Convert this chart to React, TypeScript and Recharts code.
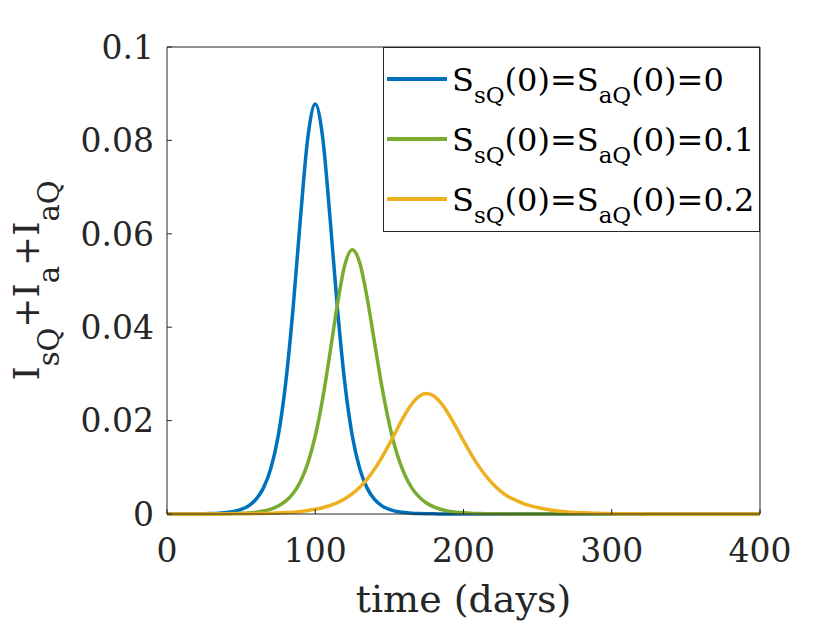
import { LineChart, Line, XAxis, YAxis } from "recharts";

// sampled every 5 days, 0..400
const TIME = [
  0, 5, 10, 15, 20, 25, 30, 35, 40, 45, 50, 55, 60, 65, 70, 75, 80, 85, 90, 95,
  100, 105, 110, 115, 120, 125, 130, 135, 140, 145, 150, 155, 160, 165, 170, 175, 180, 185, 190, 195,
  200, 205, 210, 215, 220, 225, 230, 235, 240, 245, 250, 255, 260, 265, 270, 275, 280, 285, 290, 295,
  300, 305, 310, 315, 320, 325, 330, 335, 340, 345, 350, 355, 360, 365, 370, 375, 380, 385, 390, 395,
  400,
];

// S_sQ(0)=S_aQ(0)=0
const CASE_0 = [
  0, 0, 0.00001, 0.00002, 0.00003, 0.00005, 0.00009, 0.00017, 0.0003, 0.00054,
  0.00097, 0.00175, 0.00312, 0.00554, 0.00972, 0.0167, 0.0279, 0.0439, 0.0633, 0.0806,
  0.0878, 0.0806, 0.0633, 0.0439, 0.0279, 0.0167, 0.00972, 0.00554, 0.00312, 0.00175,
  0.00097, 0.00054, 0.0003, 0.00017, 0.00009, 0.00005, 0.00003, 0.00002, 0.00001, 0,
  0, 0, 0, 0, 0, 0, 0, 0, 0, 0,
  0, 0, 0, 0, 0, 0, 0, 0, 0, 0,
  0, 0, 0, 0, 0, 0, 0, 0, 0, 0,
  0, 0, 0, 0, 0, 0, 0, 0, 0, 0,
  0,
];

// S_sQ(0)=S_aQ(0)=0.1
const CASE_01 = [
  0, 0, 0, 0, 0.00001, 0.00001, 0.00002, 0.00003, 0.00006, 0.00009,
  0.00015, 0.00024, 0.0004, 0.00065, 0.00105, 0.0017, 0.00274, 0.00439, 0.00698, 0.0109,
  0.0167, 0.0247, 0.0346, 0.045, 0.0534, 0.0566, 0.0538, 0.0463, 0.0367, 0.0272,
  0.0192, 0.013, 0.00867, 0.00566, 0.00366, 0.00235, 0.00151, 0.00096, 0.00061, 0.00039,
  0.00025, 0.00016, 0.0001, 0.00006, 0.00004, 0.00003, 0.00002, 0.00001, 0.00001, 0,
  0, 0, 0, 0, 0, 0, 0, 0, 0, 0,
  0, 0, 0, 0, 0, 0, 0, 0, 0, 0,
  0, 0, 0, 0, 0, 0, 0, 0, 0, 0,
  0,
];

// S_sQ(0)=S_aQ(0)=0.2
const CASE_02 = [
  0, 0, 0, 0, 0.00001, 0.00001, 0.00001, 0.00002, 0.00002, 0.00003,
  0.00005, 0.00006, 0.00009, 0.00012, 0.00016, 0.00022, 0.0003, 0.0004, 0.00055, 0.00074,
  0.001, 0.00135, 0.00182, 0.00245, 0.00327, 0.00435, 0.00573, 0.00747, 0.00961, 0.01215,
  0.01502, 0.01805, 0.021, 0.0235, 0.0252, 0.0258, 0.02525, 0.0237, 0.02136, 0.01859,
  0.01568, 0.01289, 0.01036, 0.00819, 0.00637, 0.00491, 0.00376, 0.003, 0.0023, 0.00178,
  0.00138, 0.00106, 0.0008, 0.0006, 0.00045, 0.00034, 0.00026, 0.00019, 0.00014, 0.00011,
  0.00008, 0.00006, 0.00005, 0.00004, 0.00003, 0.00002, 0.00002, 0.00001, 0.00001, 0,
  0, 0, 0, 0, 0, 0, 0, 0, 0, 0,
  0,
];

const X_TICKS = [0, 100, 200, 300, 400];
const Y_TICKS = [0, 0.02, 0.04, 0.06, 0.08, 0.1];
const LEGEND_VALUES = ["0", "0.1", "0.2"];
const SERIES_KEYS = ["c0", "c01", "c02"];
const COLORS = ["#0072BD", "#77AC30", "#EDB120"];

const FONT = "'DejaVu Serif', serif";
const INK = "#262626";

const data = TIME.map((t, i) => ({
  t,
  c0: CASE_0[i],
  c01: CASE_01[i],
  c02: CASE_02[i],
}));

const YLabel = (props: any) => {
  const vb = props.viewBox || { x: 67, y: 47, width: 100, height: 467 };
  const cx = vb.x + vb.width - 128;
  const cy = vb.y + vb.height / 2;
  const sub = 29;
  const drop = 20;
  return (
    <text
      transform={`translate(${cx},${cy}) rotate(-90)`}
      textAnchor="middle"
      fontFamily={FONT}
      fontSize={36}
      fill={INK}
    >
      <tspan>I</tspan>
      <tspan fontSize={sub} dy={drop}>sQ</tspan>
      <tspan dy={-drop}>+I</tspan>
      <tspan fontSize={sub} dy={drop}>a</tspan>
      <tspan dy={-drop}>+I</tspan>
      <tspan fontSize={sub} dy={drop}>aQ</tspan>
    </text>
  );
};

const XLabel = (props: any) => {
  const vb = props.viewBox || { x: 167, y: 514, width: 593, height: 60 };
  return (
    <text
      x={vb.x + vb.width / 2}
      y={vb.y + 98}
      textAnchor="middle"
      fontFamily={FONT}
      fontSize={38}
      fill={INK}
    >
      time (days)
    </text>
  );
};

function LegendBox() {
  const drop = 12;
  return (
    <div style={{ position: "absolute", left: 383, top: 47, width: 377, height: 185 }}>
      <svg width={377} height={185}>
        <rect x={0.5} y={0.5} width={376} height={184} fill="#fff" stroke={INK} strokeWidth={1} />
        {LEGEND_VALUES.map((v, i) => {
          const ly = 32 + i * 60;
          return (
            <g key={v}>
              <line x1={4} x2={64} y1={ly} y2={ly} stroke={COLORS[i]} strokeWidth={4} />
              <text x={69} y={ly + 12} fontFamily={FONT} fontSize={32} fill="#000">
                <tspan>S</tspan>
                <tspan fontSize={23} dy={drop}>sQ</tspan>
                <tspan dy={-drop}>(0)=S</tspan>
                <tspan fontSize={23} dy={drop}>aQ</tspan>
                <tspan dy={-drop}>(0)={v}</tspan>
              </text>
            </g>
          );
        })}
      </svg>
    </div>
  );
}

export default function App() {
  return (
    <div style={{ position: "absolute", left: 0, top: 0, width: 840, height: 630, background: "#fff" }}>
      <LineChart
        width={840}
        height={630}
        data={data}
        margin={{ top: 46, right: 79, left: 67, bottom: 56 }}
      >
        <XAxis
          dataKey="t"
          type="number"
          domain={[0, 400]}
          ticks={X_TICKS}
          interval={0}
          height={60}
          stroke={INK}
          tickSize={-5}
          tickMargin={30}
          tick={{ fill: INK, fontFamily: FONT, fontSize: 33 }}
          label={<XLabel />}
        />
        <XAxis
          xAxisId="top"
          orientation="top"
          dataKey="t"
          type="number"
          domain={[0, 400]}
          ticks={X_TICKS}
          height={1}
          stroke={INK}
          tickSize={-5}
          tick={false}
        />
        <YAxis
          type="number"
          domain={[0, 0.1]}
          ticks={Y_TICKS}
          interval={0}
          width={100}
          stroke={INK}
          tickSize={-5}
          tickMargin={18}
          tick={{ fill: INK, fontFamily: FONT, fontSize: 33 }}
          label={<YLabel />}
        />
        <YAxis
          yAxisId="right"
          orientation="right"
          type="number"
          domain={[0, 0.1]}
          ticks={Y_TICKS}
          width={1}
          stroke={INK}
          tickSize={-5}
          tick={false}
        />
        {SERIES_KEYS.map((k, i) => (
          <Line
            key={k}
            dataKey={k}
            type="monotone"
            stroke={COLORS[i]}
            strokeWidth={3.5}
            dot={false}
            activeDot={false}
            isAnimationActive={false}
          />
        ))}
      </LineChart>
      <LegendBox />
    </div>
  );
}
